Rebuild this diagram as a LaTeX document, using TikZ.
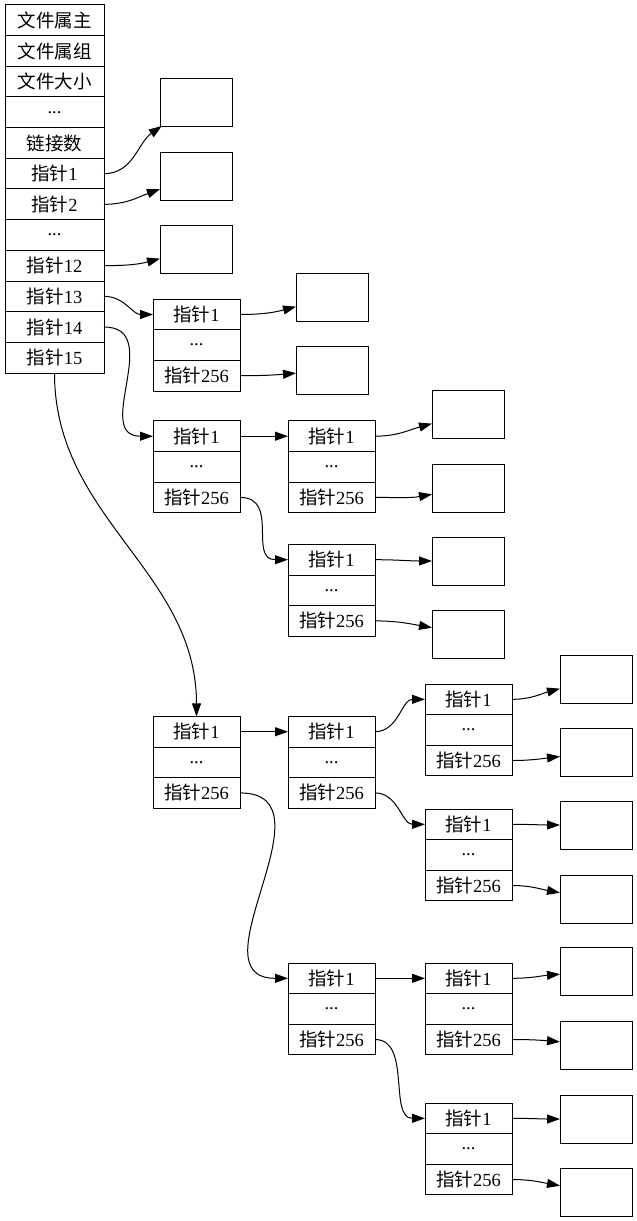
\documentclass[tikz,border=0pt]{standalone}
\usepackage{fontspec}
\setmainfont{Liberation Serif}
\newfontfamily\cjk{Noto Sans CJK SC}
\usetikzlibrary{arrows.meta, positioning}

% one indirect block: pointer 1, dots, pointer 256
\newcommand{\ptrblock}[2]{%
  \node[cell] (#1a) at (#2) {{\cjk 指针}1};
  \node[cell, below=of #1a] (#1b) {...};
  \node[cell, below=of #1b] (#1c) {{\cjk 指针}256};
}

\begin{document}
\begin{tikzpicture}[
    x=1pt, y=1pt,
    node distance=0pt,
    cell/.style={rectangle, draw, line width=1pt, minimum width=87pt, minimum height=30.6pt, inner sep=0pt, outer sep=0pt, font=\fontsize{18.5}{20}\selectfont},
    field/.style={cell, minimum width=99pt, minimum height=30.67pt},
    datablk/.style={rectangle, draw, line width=1pt, minimum width=72pt, minimum height=48pt, outer sep=0pt},
    ptr/.style={-{Triangle[length=13pt,width=9pt]}, line width=1pt}
]
\useasboundingbox (0,0) rectangle (637,-1221);

% inode
\node[field] (owner) at (54.5,-20.3) {\cjk 文件属主};
\node[field, below=of owner] (group) {\cjk 文件属组};
\node[field, below=of group] (fsize) {\cjk 文件大小};
\node[field, below=of fsize] (dotsa) {...};
\node[field, below=of dotsa] (links) {\cjk 链接数};
\node[field, below=of links] (p1) {{\cjk 指针}1};
\node[field, below=of p1] (p2) {{\cjk 指针}2};
\node[field, below=of p2] (dotsb) {...};
\node[field, below=of dotsb] (p12) {{\cjk 指针}12};
\node[field, below=of p12] (p13) {{\cjk 指针}13};
\node[field, below=of p13] (p14) {{\cjk 指针}14};
\node[field, below=of p14] (p15) {{\cjk 指针}15};

% direct blocks
\node[datablk] (d1) at (196,-102) {};
\node[datablk] (d2) at (196,-176) {};
\node[datablk] (d3) at (196,-249) {};

% single indirect
\ptrblock{A}{196.5,-314.5}
\node[datablk] (A1) at (332,-297) {};
\node[datablk] (A2) at (332,-370) {};

% double indirect
\ptrblock{B}{196.5,-436.2}
\ptrblock{C}{331.5,-436.2}
\node[datablk] (C1) at (468,-414) {};
\node[datablk] (C2) at (468,-488) {};
\ptrblock{D}{331.5,-559.7}
\node[datablk] (D1) at (468,-561) {};
\node[datablk] (D2) at (468,-634) {};

% triple indirect
\ptrblock{E}{196.5,-731.7}
\ptrblock{F}{331.5,-731.7}
\ptrblock{G}{468.5,-699.3}
\node[datablk] (G1) at (596,-679) {};
\node[datablk] (G2) at (596,-752) {};
\ptrblock{H}{468.5,-824.3}
\node[datablk] (H1) at (596,-825) {};
\node[datablk] (H2) at (596,-899) {};
\ptrblock{I}{331.5,-978.3}
\ptrblock{J}{468.5,-978.3}
\node[datablk] (J1) at (596,-971) {};
\node[datablk] (J2) at (596,-1045) {};
\ptrblock{K}{468.5,-1118.3}
\node[datablk] (K1) at (596,-1119) {};
\node[datablk] (K2) at (596,-1192) {};

\draw[ptr] (p1.east) to[out=0, in=215] (d1);
\draw[ptr] (p2.east) to[out=0, in=200] (d2);
\draw[ptr] (p12.east) to[out=0, in=195] (d3);
\draw[ptr] (p13.east) to[out=0, in=180] (Aa.west);
\draw[ptr] (p14.east) to[out=0, in=180, looseness=1.3] (Ba.west);
\draw[ptr] (p15.south) to[out=-90, in=90] (Ea.north);

\draw[ptr] (Aa.east) to[out=0, in=195] (A1);
\draw[ptr] (Ac.east) to[out=0, in=185] (A2);

\draw[ptr] (Ba.east) -- (Ca.west);
\draw[ptr] (Bc.east) to[out=0, in=180, looseness=1.3] (Da.west);
\draw[ptr] (Ca.east) to[out=0, in=195] (C1);
\draw[ptr] (Cc.east) to[out=0, in=190] (C2);
\draw[ptr] (Da.east) to[out=0, in=180] (D1);
\draw[ptr] (Dc.east) to[out=0, in=170] (D2);

\draw[ptr] (Ea.east) -- (Fa.west);
\draw[ptr] (Ec.east) to[out=0, in=180, looseness=1.3] (Ia.west);
\draw[ptr] (Fa.east) to[out=0, in=180] (Ga.west);
\draw[ptr] (Fc.east) to[out=0, in=180] (Ha.west);
\draw[ptr] (Ga.east) to[out=0, in=195] (G1);
\draw[ptr] (Gc.east) to[out=0, in=187] (G2);
\draw[ptr] (Ha.east) to[out=0, in=180] (H1);
\draw[ptr] (Hc.east) to[out=0, in=170] (H2);
\draw[ptr] (Ia.east) -- (Ja.west);
\draw[ptr] (Ic.east) to[out=0, in=180] (Ka.west);
\draw[ptr] (Ja.east) to[out=0, in=185] (J1);
\draw[ptr] (Jc.east) to[out=0, in=175] (J2);
\draw[ptr] (Ka.east) to[out=0, in=180] (K1);
\draw[ptr] (Kc.east) to[out=0, in=170] (K2);

\end{tikzpicture}
\end{document}
